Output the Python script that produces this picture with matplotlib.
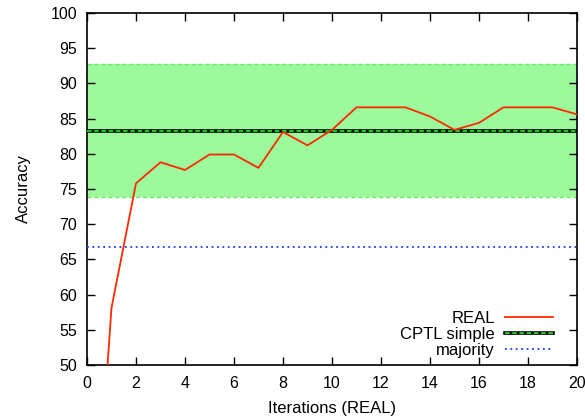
import numpy as np
import matplotlib
matplotlib.use("Agg")
import matplotlib.pyplot as plt

plt.rcParams['font.family'] = ['Liberation Sans', 'DejaVu Sans']

# dados
iteracoes = list(range(0, 21))
real = [8.0, 58.1, 75.8, 78.8, 77.7, 79.9, 79.9, 78.0, 83.1, 81.2, 83.4,
        86.6, 86.6, 86.6, 85.3, 83.4, 84.4, 86.6, 86.6, 86.6, 85.6]
cptl_media = 83.3
cptl_baixo = 73.9
cptl_alto = 92.7
majority = 66.7

xticks = list(range(0, 21, 2))
yticks = list(range(50, 101, 5))

fig = plt.figure(figsize=(5.85, 4.18), dpi=100)
ax = fig.add_axes([0.1487, 0.1268, 0.8376, 0.8421])

# faixa do CPTL
ax.axhspan(cptl_baixo, cptl_alto, facecolor='#9cf99c', edgecolor='none', zorder=1)
ax.axhline(cptl_baixo, color='#66ee66', lw=1.0, ls=(0, (3, 2)), zorder=2)
ax.axhline(cptl_alto, color='#66ee66', lw=1.0, ls=(0, (3, 2)), zorder=2)

l_real, = ax.plot(iteracoes, real, color='#ff2a00', lw=1.3, zorder=4, label='REAL')
l_preto = ax.axhline(cptl_media, color='black', lw=2.6, zorder=3)
l_verde = ax.axhline(cptl_media, color='#22dd22', lw=1.3, ls=(0, (2.5, 1.5)), zorder=3)
l_maj = ax.axhline(majority, color='#1a3cff', lw=1.3, ls=(0, (1, 2)), zorder=3)

ax.set_xlim(0, 20)
ax.set_ylim(50, 100)
ax.set_xticks(xticks)
ax.set_yticks(yticks)
ax.tick_params(direction='in', top=True, right=True, length=6, width=1, labelsize=11.5)
ax.tick_params(axis='x', pad=8)
ax.tick_params(axis='y', pad=7)
for s in ax.spines.values():
    s.set_linewidth(1.2)

ax.set_xlabel('Iterations (REAL)', fontsize=12, labelpad=7)
ax.set_ylabel('Accuracy', fontsize=12, labelpad=14)

leg = ax.legend([l_real, (l_preto, l_verde), l_maj], ['REAL', 'CPTL simple', 'majority'],
                loc='lower right', bbox_to_anchor=(0.965, 0.0), frameon=False,
                markerfirst=False, fontsize=12, handlelength=2.9, labelspacing=0.08,
                borderaxespad=0.0, handletextpad=0.6)
for t in leg.get_texts():
    t.set_ha('right')

fig.savefig('out.png', dpi=100)
